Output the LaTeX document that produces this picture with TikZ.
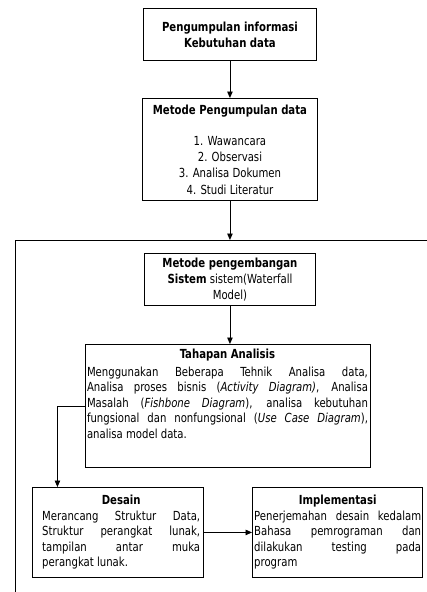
\documentclass[tikz,border=0pt]{standalone}
\usepackage{fontspec}
\setmainfont[FakeStretch=0.9]{DejaVu Sans Condensed}
\usetikzlibrary{arrows.meta}
\newcommand\nohyph{\hyphenpenalty 10000\exhyphenpenalty 10000\relax}
\tikzset{
  box/.style={draw, line width=0.9pt, inner sep=0pt},
  arr/.style={line width=0.9pt, -{Triangle[length=6.5pt,width=5.5pt]}},
  txt/.style={font={\fontsize{12.5}{16.2}\selectfont\nohyph}, inner sep=0pt},
  body/.style={txt, align=justify, font={\fontsize{12.5}{15.5}\selectfont\nohyph}},
}
\begin{document}
\begin{tikzpicture}[x=1pt,y=-1pt]
\useasboundingbox (0,0) rectangle (427,592);

% upper chain
\node[box, txt, align=center, anchor=north west, minimum width=173, minimum height=52]
  (b1) at (143,8) {\textbf{Pengumpulan informasi}\\\textbf{Kebutuhan data}};
\node[box, txt, align=center, anchor=north west, minimum width=175, minimum height=102]
  (b2) at (142,98) {\textbf{Metode Pengumpulan data}\\[15pt]1. Wawancara\\2. Observasi\\3. Analisa Dokumen\\4. Studi Literatur};

% frame around the development method
\node[box, anchor=north west, minimum width=440, minimum height=380] (frame) at (15,240) {};

\node[box, txt, align=center, anchor=north west, minimum width=171, minimum height=52]
  (b3) at (144,253) {\textbf{Metode pengembangan}\\\textbf{Sistem} sistem(Waterfall\\Model)};

% analysis stage
\node[box, anchor=north west, minimum width=285, minimum height=123] (b4) at (85,344) {};
\node[body, text width=281, anchor=north] (t4) at (227.5,349)
  {\makebox[\linewidth][c]{\textbf{Tahapan Analisis}}\\[2pt]
   Menggunakan Beberapa Tehnik Analisa data,\linebreak
   Analisa proses bisnis (\textit{Activity Diagram)}, Analisa\linebreak
   Masalah (\textit{Fishbone Diagram}), analisa kebutuhan\linebreak
   fungsional dan nonfungsional (\textit{Use Case Diagram}),\linebreak
   analisa model data.};

% design and implementation
\node[box, anchor=north west, minimum width=171, minimum height=90] (b5) at (32,487) {};
\node[body, text width=158, anchor=north west] (t5) at (42,495)
  {\makebox[\linewidth][c]{\textbf{Desain}}\\
   Merancang Struktur Data,\linebreak
   Struktur perangkat lunak,\linebreak
   tampilan antar muka\linebreak
   perangkat lunak.};

\node[box, anchor=north west, minimum width=170, minimum height=90] (b6) at (252,487) {};
\node[body, text width=167, anchor=north west] (t6) at (254,495)
  {\makebox[\linewidth][c]{\textbf{Implementasi}}\\
   Penerjemahan desain kedalam\linebreak
   Bahasa pemrograman dan\linebreak
   dilakukan testing pada\linebreak
   program};

% connectors
\draw[arr] (b1.south) -- (b2.north -| b1.south);
\draw[arr] (b2.south -| b1.south) -- (frame.north -| b1.south);
\draw[arr] (b3.south) -- (b4.north -| b3.south);
\draw[arr] (b4.west) -| ([xshift=-60.5pt]b5.north);
\draw[arr] (b5.east) -- (b6.west);
\end{tikzpicture}
\end{document}
